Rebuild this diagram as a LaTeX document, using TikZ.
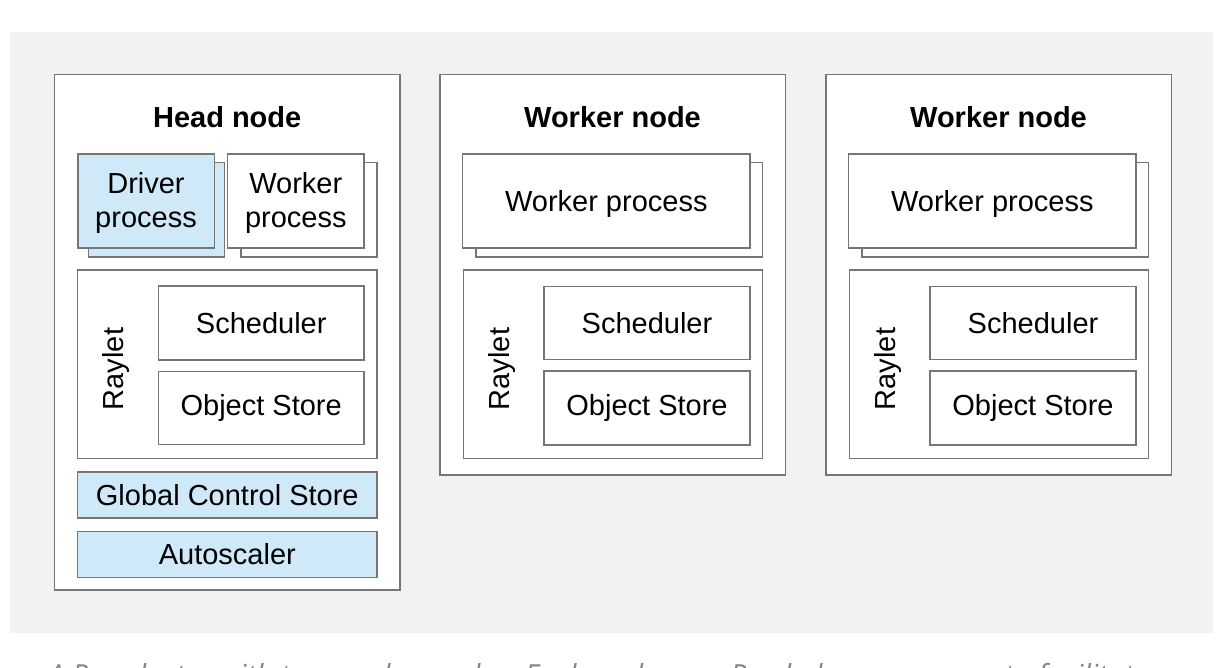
\documentclass[tikz,border=0pt]{standalone}
\usepackage{fontspec}
\setmainfont{Liberation Sans}
\newfontfamily\capfont{Open Sans}
\usepackage{xcolor}
\usepackage{tikz}
\usetikzlibrary{positioning}
\definecolor{bggray}{HTML}{F2F2F2}
\definecolor{linegray}{HTML}{767676}
\definecolor{rayblue}{HTML}{CFE9F9}
\definecolor{capgray}{HTML}{858585}
\tikzset{
	box/.style={draw=linegray,line width=1.6pt,fill=white,inner sep=0pt,align=center,font=\fontsize{29}{34}\selectfont},
	bluebox/.style={box,fill=rayblue},
	nodetitle/.style={font=\fontsize{29}{34}\selectfont\bfseries},
}

\begin{document}
\begin{tikzpicture}[x=1pt,y=-1pt]
	\clip (0,0) rectangle (1222,667);
	\fill[white] (0,0) rectangle (1222,667);
	\fill[bggray] (10,32) rectangle (1213,633);
	\node[box,minimum width=345.7pt,minimum height=515.7pt] (head) at (227.2,332.2) {};
	\node[nodetitle] (headtitle) at (227.2,117) {Head node};
	\node[bluebox,minimum width=136pt,minimum height=94.3pt] (driverback) at (156.3,209.8) {};
	\node[bluebox,minimum width=136.6pt,minimum height=94pt,text depth=2pt] (driver) at (146,200.7) {Driver\\process};
	\node[box,minimum width=136pt,minimum height=94.3pt] (hworkerback) at (308.7,209.8) {};
	\node[box,minimum width=136.3pt,minimum height=94pt,text depth=2pt] (hworker) at (295.8,200.7) {Worker\\process};
	\node[box,minimum width=299.3pt,minimum height=188.7pt] (hraylet) at (227.3,364.3) {};
	\node[rotate=90,font=\fontsize{29}{34}\selectfont] (hrayletlabel) at (116,369) {Raylet};
	\node[box,minimum width=205.7pt,minimum height=73.6pt] (hsched) at (261.2,323) {Scheduler};
	\node[box,minimum width=205.7pt,minimum height=73.3pt] (hstore) at (261.2,408) {Object Store};
	\node[bluebox,minimum width=299.3pt,minimum height=46.4pt] (gcs) at (227.3,495) {Global Control Store};
	\node[bluebox,minimum width=299.3pt,minimum height=46pt] (autoscaler) at (227.3,554.5) {Autoscaler};
	\foreach \i/\dx in {1/0,2/386}
	{
		\node[box,minimum width=345.3pt,minimum height=400.7pt] (worker\i) at (612.7+\dx,274.7) {};
		\node[nodetitle] (wtitle\i) at (612.5+\dx,117) {Worker node};
		\node[box,minimum width=286.6pt,minimum height=94.3pt] (wprocback\i) at (619+\dx,209.8) {};
		\node[box,minimum width=287.3pt,minimum height=94pt] (wproc\i) at (606.3+\dx,200.7) {};
		\node (wproclabel\i) at (606.3+\dx,203.5) {\fontsize{29}{34}\selectfont Worker process};
		\node[box,minimum width=299pt,minimum height=188.3pt] (raylet\i) at (612.8+\dx,364.2) {};
		\node[rotate=90,font=\fontsize{29}{34}\selectfont] (rayletlabel\i) at (501.5+\dx,369) {Raylet};
		\node[box,minimum width=206pt,minimum height=73.3pt] (sched\i) at (647+\dx,323) {Scheduler};
		\node[box,minimum width=206pt,minimum height=73.6pt] (store\i) at (647+\dx,408) {Object Store};
	}
	\node[anchor=base west,inner sep=0pt,text=capgray,font=\capfont\itshape\fontsize{29}{34}\selectfont] (caption) at (48,685) {A Ray cluster with two worker nodes. Each node runs Ray helper processes to facilitate};
\end{tikzpicture}
\end{document}
